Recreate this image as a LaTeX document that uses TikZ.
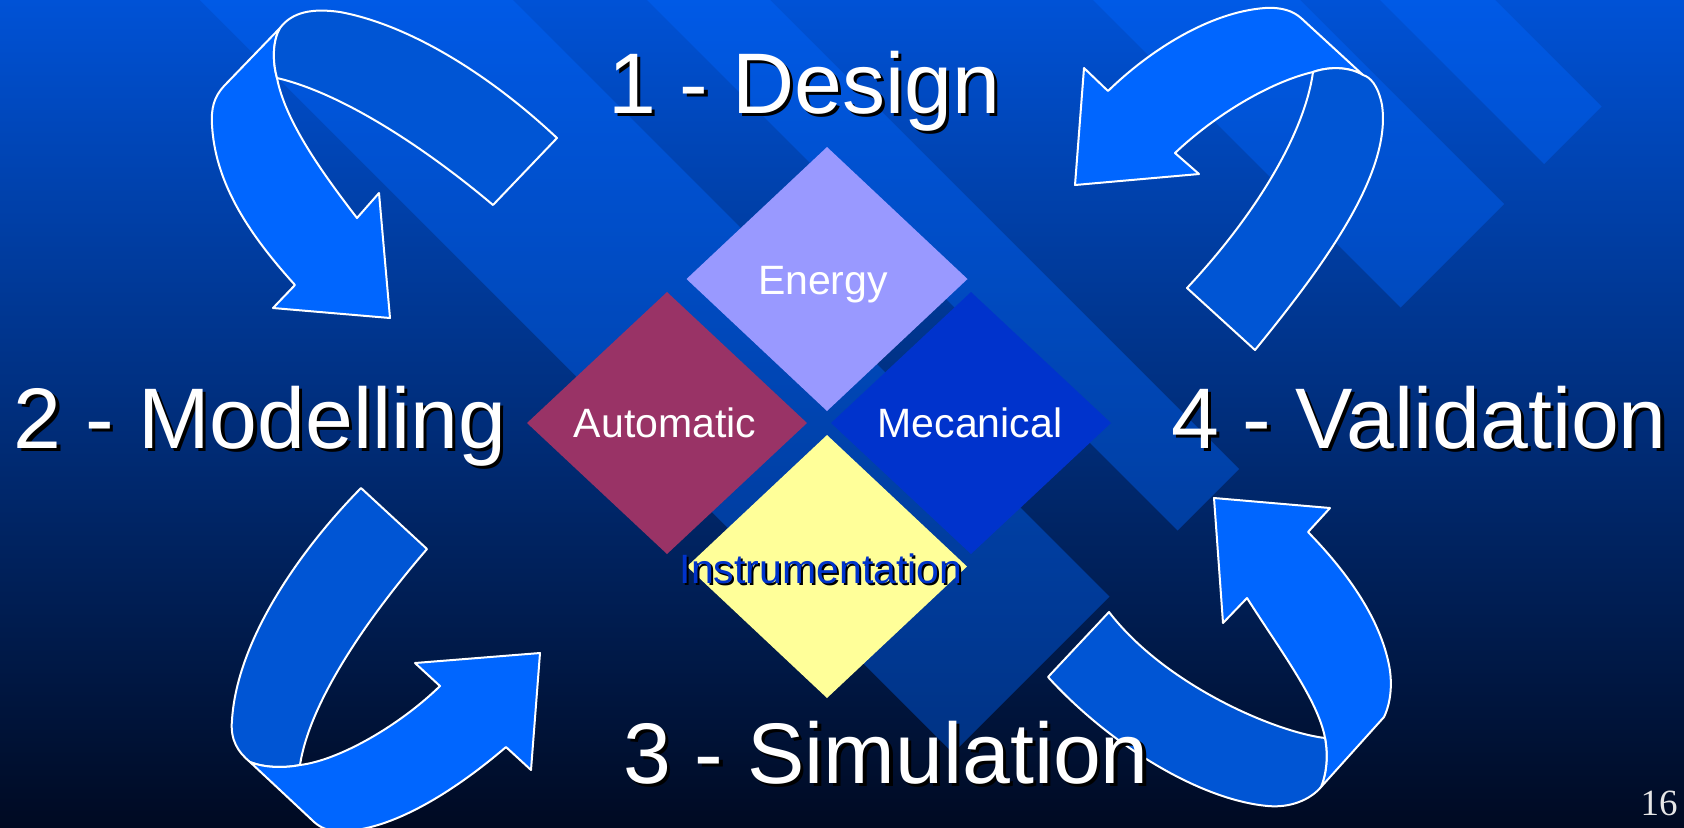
\documentclass[tikz,border=0pt]{standalone}
\usepackage{fontspec}
\setmainfont{Liberation Sans}
\newfontfamily\pagefont{Liberation Serif}
\definecolor{g0}{HTML}{0052D6}
\definecolor{g2}{HTML}{003696}
\definecolor{g5}{HTML}{000A22}
\definecolor{bandblue}{HTML}{0066FF}
\definecolor{frontblue}{HTML}{0066FF}
\definecolor{backblue}{HTML}{0055D4}
\definecolor{energyc}{HTML}{9999FF}
\definecolor{autoc}{HTML}{993366}
\definecolor{mecac}{HTML}{0033CC}
\definecolor{instc}{HTML}{FFFF99}
\definecolor{pagec}{HTML}{E6E6E6}
\begin{document}
\begin{tikzpicture}[x=0.5pt,y=-0.5pt,
  band/.style={fill=bandblue, fill opacity=0.4},
  frontrib/.style={fill=frontblue, draw=white, line width=1pt, line join=round},
  backrib/.style={fill=backblue, draw=white, line width=1pt, line join=round},
  bigtxt/.style={font=\fontsize{43}{50}\selectfont, text=white, inner sep=0pt, anchor=base},
  bigshadow/.style={bigtxt, text=black},
  dtxt/.style={font=\fontsize{20.5}{24}\selectfont, text=white, inner sep=0pt, anchor=base},
  dshadow/.style={dtxt, text=black}]
\useasboundingbox (0,0) rectangle (1684,827);
% background
\shade[top color=g0, middle color=g2, bottom color=g5] (0,0) rectangle (1684,827);
% diagonal bands
\fill[band] (200,0) -- (513,0) -- (1109.5,596.5) -- (953,753) -- cycle;
\fill[band] (647,0) -- (770,0) -- (1239,469) -- (1177.5,530.5) -- cycle;
\fill[band] (1093,0) -- (1300,0) -- (1504,204) -- (1400.5,307.5) -- cycle;
\fill[band] (1380,0) -- (1495,0) -- (1601.5,106.5) -- (1544,164) -- cycle;
% diamonds
\fill[energyc] (827,147) -- (967.5,279) -- (827,411) -- (686.5,279) -- cycle;
\fill[autoc] (667,292) -- (807,423) -- (667,554) -- (527,423) -- cycle;
\fill[mecac] (971,292) -- (1111,423) -- (971,554) -- (831,423) -- cycle;
\fill[instc] (827,435) -- (967,566.5) -- (827,698) -- (687,566.5) -- cycle;
% top-left arrow
\path[frontrib] (280,28) -- (224,86) .. controls (214,97) and (211,108) .. (212,125)
  .. controls (215,180) and (245,230) .. (295,285) -- (273,308) -- (390,318) -- (379,193) -- (357,218)
  .. controls (320,170) and (285,120) .. (277,78) .. controls (272,60) and (273,40) .. (280,28) -- cycle;
\path[backrib] (280,28) .. controls (292,12) and (312,8) .. (340,12) .. controls (410,25) and (490,75) .. (557,138)
  -- (493,205) .. controls (440,160) and (350,95) .. (277,78) .. controls (272,60) and (273,40) .. (280,28) -- cycle;
% top-right arrow
\path[frontrib] (1108,91) .. controls (1150,50) and (1210,12) .. (1265,8) .. controls (1282,7) and (1293,11) .. (1301,18)
  -- (1363,75) .. controls (1350,67) and (1330,66) .. (1313,72) .. controls (1270,82) and (1215,115) .. (1175,153)
  -- (1199,174) -- (1075,185) -- (1084,68) -- cycle;
\path[backrib] (1313,72) .. controls (1305,130) and (1260,210) .. (1187,288) -- (1255,350)
  .. controls (1320,270) and (1392,175) .. (1382,105) .. controls (1378,85) and (1370,77) .. (1363,75)
  .. controls (1350,67) and (1330,66) .. (1313,72) -- cycle;
% bottom-left arrow
\path[backrib] (250,762) .. controls (238,752) and (230,740) .. (232,720) .. controls (237,640) and (300,550) .. (361,488)
  -- (427,549) .. controls (370,615) and (310,700) .. (300,765) .. controls (285,768) and (265,768) .. (250,762) -- cycle;
\path[frontrib] (250,762) .. controls (265,768) and (285,768) .. (300,765) .. controls (340,760) and (400,725) .. (440,686)
  -- (415,663) -- (540,653) -- (531,770) -- (506,747) .. controls (450,795) and (385,834) .. (335,831)
  .. controls (325,830) and (318,826) .. (312,820) -- cycle;
% bottom-right arrow
\path[frontrib] (1247,598) .. controls (1280,650) and (1318,700) .. (1325,738) .. controls (1328,755) and (1327,772) .. (1321,787)
  -- (1384,717) .. controls (1392,700) and (1392,680) .. (1389,665) .. controls (1380,620) and (1350,575) .. (1308,532)
  -- (1330,508) -- (1214,498) -- (1223,623) -- cycle;
\path[backrib] (1325,738) .. controls (1275,732) and (1165,685) .. (1109,612) -- (1048,677)
  .. controls (1110,745) and (1200,800) .. (1268,806) .. controls (1290,808) and (1310,800) .. (1321,787)
  .. controls (1327,772) and (1328,755) .. (1325,738) -- cycle;
% diamond labels
\node[dtxt] (energy) at (823,294) {Energy};
\node[dtxt] (automatic) at (665,437) {Automatic};
\node[dtxt] (mecanical) at (970,437) {Mecanical};
\node[dshadow] (instrumentationS) at (823,585) {Instrumentation};
\node[dtxt, text=mecac] (instrumentation) at (821,583) {Instrumentation};
% big labels
\node[bigshadow] (designS) at (807.5,116.5) {1 - Design};
\node[bigtxt] (design) at (804,113) {1 - Design};
\node[bigshadow] (modellingS) at (263.5,451.5) {2 - Modelling};
\node[bigtxt] (modelling) at (260,448) {2 - Modelling};
\node[bigshadow] (validationS) at (1422.5,451.5) {4 - Validation};
\node[bigtxt] (validation) at (1419,448) {4 - Validation};
\node[bigshadow] (simulationS) at (889.5,786.5) {3 - Simulation};
\node[bigtxt] (simulation) at (886,783) {3 - Simulation};
% page number
\node[inner sep=0pt, anchor=base, text=pagec, font=\pagefont\fontsize{18.5}{22}\selectfont] (pagenum) at (1659,815) {16};
\end{tikzpicture}
\end{document}
